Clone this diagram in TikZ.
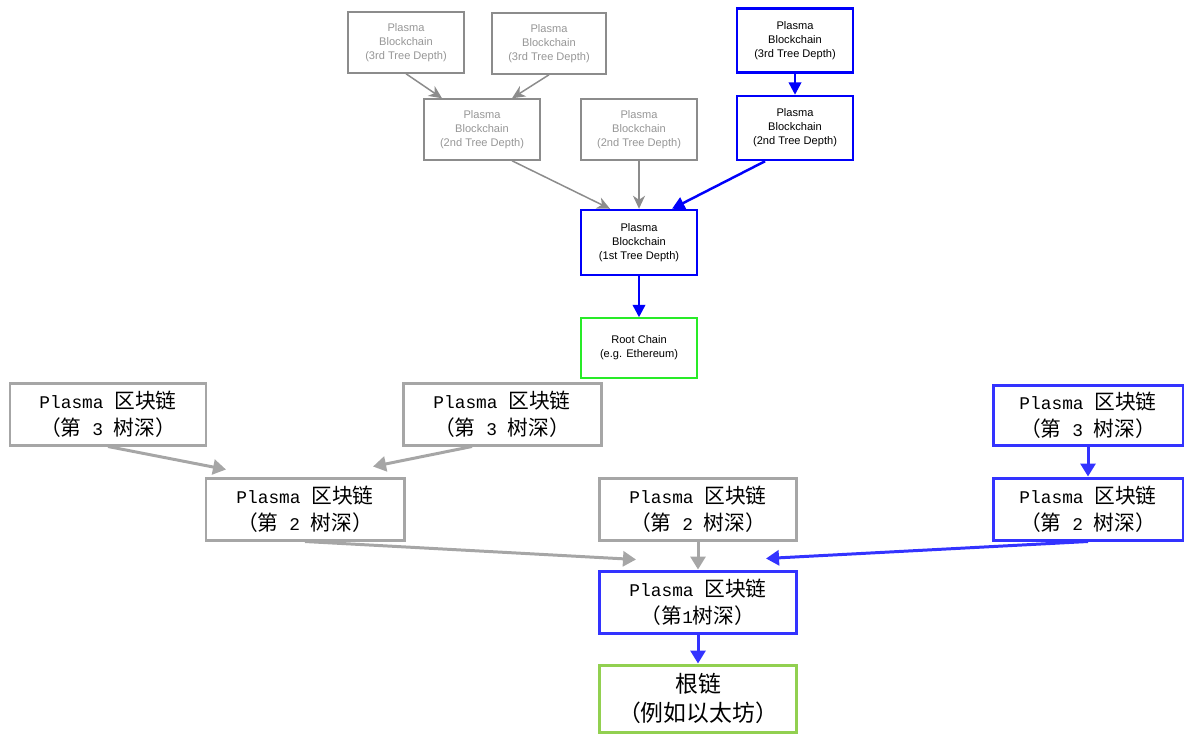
\documentclass[tikz,border=0pt]{standalone}
\usepackage{fontspec}
\setmainfont{Liberation Sans}
\newfontfamily\cjk{Noto Sans CJK SC}
\newfontfamily\latmono[Scale=0.86]{Liberation Mono}
\usepackage{tikz}
\usetikzlibrary{arrows.meta, positioning}
\definecolor{pgray}{RGB}{140,140,140}
\definecolor{ptext}{RGB}{150,150,150}
\definecolor{pblue}{RGB}{0,0,250}
\definecolor{pgreen}{RGB}{40,235,40}
\definecolor{zgray}{RGB}{166,166,166}
\definecolor{zblue}{RGB}{51,51,255}
\definecolor{zgreen}{RGB}{146,208,80}
\newcommand{\enplasma}[1]{Plasma\\Blockchain\\(#1 Tree Depth)}
\newcommand{\zhplasma}[1]{{\latmono Plasma\ }区块链\\（第{\latmono\ #1\ }树深）}

\begin{document}
\begin{tikzpicture}[
  chain/.style={rectangle, align=center, inner sep=0pt, minimum width=2.32cm,
                minimum height=1.22cm, font=\fontsize{6.3}{7.9}\selectfont},
  gchain/.style={chain, draw=pgray, text=ptext, line width=0.85pt},
  bchain/.style={chain, draw=pblue, text=black, line width=1.4pt, minimum height=1.28cm},
  root/.style={chain, draw=pgreen, text=black, line width=0.85pt, minimum height=1.2cm},
  zchain/.style={rectangle, align=center, inner sep=0pt, minimum width=3.94cm,
                 minimum height=1.24cm, line width=1.7pt,
                 font=\cjk\fontsize{11.8}{15.4}\selectfont},
  zgchain/.style={zchain, draw=zgray},
  zbchain/.style={zchain, draw=zblue},
  zroot/.style={zchain, draw=zgreen, minimum height=1.34cm,
                font=\cjk\fontsize{13}{17}\selectfont},
  garr/.style={-{Stealth[length=0.26cm, width=0.24cm, inset=0.08cm]}, pgray, line width=0.85pt},
  barr/.style={-{Triangle[length=0.25cm, width=0.25cm]}, pblue, line width=1.4pt},
  zgarr/.style={-{Triangle[length=0.26cm, width=0.3cm]}, zgray, line width=1.7pt},
  zbarr/.style={-{Triangle[length=0.26cm, width=0.3cm]}, zblue, line width=1.7pt},
]
\useasboundingbox (0,0) rectangle (23.68,-14.68);

% English tree
\node[gchain] (a1) at (8.12,-0.85) {\enplasma{3rd}};
\node[gchain, minimum width=2.28cm] (a2) at (10.98,-0.87) {\enplasma{3rd}};
\node[bchain] (a3) at (15.90,-0.81) {\enplasma{3rd}};
\node[gchain] (b1) at (9.64,-2.59) {\enplasma{2nd}};
\node[gchain] (b2) at (12.78,-2.59) {\enplasma{2nd}};
\node[bchain] (b3) at (15.90,-2.56) {\enplasma{2nd}};
\node[bchain, minimum height=1.3cm] (c) at (12.78,-4.85) {\enplasma{1st}};
\node[root] (r) at (12.78,-6.96) {Root Chain\\(e.g. Ethereum)};

\draw[garr] (a1.south) -- ([xshift=-0.8cm]b1.north);
\draw[garr] (a2.south) -- ([xshift=0.6cm]b1.north);
\draw[barr] (a3) -- (b3);
\draw[garr] ([xshift=0.6cm]b1.south) -- ([xshift=-0.58cm]c.north);
\draw[garr] (b2) -- (c);
\draw[barr] ([xshift=-0.6cm]b3.south) -- ([xshift=0.66cm]c.north);
\draw[barr] (c) -- (r);

% Chinese tree
\node[zgchain, minimum width=3.92cm] (d1) at (2.16,-8.28) {\zhplasma{3}};
\node[zgchain, minimum width=3.96cm] (d2) at (10.04,-8.28) {\zhplasma{3}};
\node[zbchain, minimum width=3.8cm, minimum height=1.2cm] (d3) at (21.76,-8.30) {\zhplasma{3}};
\node[zgchain, minimum width=3.96cm] (e1) at (6.10,-10.18) {\zhplasma{2}};
\node[zgchain] (e2) at (13.96,-10.18) {\zhplasma{2}};
\node[zbchain, minimum width=3.8cm] (e3) at (21.76,-10.18) {\zhplasma{2}};
\node[zbchain] (f) at (13.96,-12.04) {{\latmono Plasma\ }区块链\\（第{\latmono 1}树深）};
\node[zroot] (g) at (13.96,-13.97) {根链\\（例如以太坊）};

\draw[zgarr] (d1.south) -- ([shift={(-1.58,0.14)}]e1.north);
\draw[zgarr] ([xshift=-0.6cm]d2.south) -- ([shift={(1.36,0.2)}]e1.north);
\draw[zbarr] (d3) -- (e3);
\draw[zgarr] (e1.south) -- ([shift={(-1.24,0.2)}]f.north);
\draw[zgarr] (e2) -- (f);
\draw[zbarr] (e3.south) -- ([shift={(1.36,0.22)}]f.north);
\draw[zbarr] (f) -- (g);

\end{tikzpicture}
\end{document}
